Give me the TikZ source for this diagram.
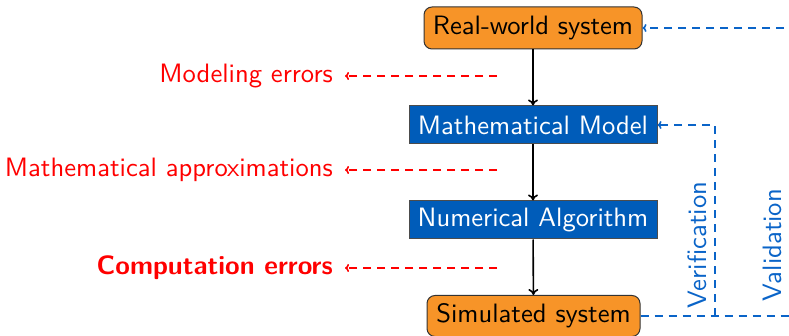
\documentclass[tikz,border=0pt]{standalone}
\usepackage{graphicx}
\usetikzlibrary{arrows.meta}
\definecolor{orng}{RGB}{247,148,40}
\definecolor{bfill}{RGB}{0,92,185}
\definecolor{bline}{RGB}{10,100,200}
\newcommand\Tx[1]{\scalebox{2.66}{\fontsize{10}{12}\selectfont\sffamily #1}}
\begin{document}
\begin{tikzpicture}[x=1pt,y=-1pt,
  sysbox/.style={draw=black!80,fill=orng,rounded corners=8pt,line width=1pt,inner sep=0pt,text=black},
  modbox/.style={draw=black!70,fill=bfill,line width=1pt,inner sep=0pt,text=white,minimum width=248pt,minimum height=38pt},
  flow/.style={-{To[length=6pt,width=10pt]},line width=1.6pt,black},
  errarrow/.style={-{To[length=4pt,width=8pt]},red,line width=1.6pt,dash pattern=on 8pt off 6pt},
  varrow/.style={bline,line width=1.6pt,dash pattern=on 8pt off 6pt},
  errlabel/.style={text=red,anchor=east,inner sep=0pt},
  vlabel/.style={text=bline,rotate=90,inner sep=0pt}
]
\useasboundingbox (0,0) rectangle (789,336);
\node[sysbox,minimum width=218pt,minimum height=42pt] (real) at (533,28) {\Tx{Real-world system}};
\node[modbox] (math) at (533,125) {\Tx{Mathematical Model}};
\node[modbox] (num) at (533,220) {\Tx{Numerical Algorithm}};
\node[sysbox,minimum width=213pt,minimum height=41pt] (sim) at (533.5,316) {\Tx{Simulated system}};

\draw[flow] (real) -- (math);
\draw[flow] (math) -- (num);
\draw[flow] (num) -- (sim);

\node[errlabel] (e1) at (333,76) {\Tx{Modeling errors}};
\node[errlabel] (e2) at (333,170) {\Tx{Mathematical approximations}};
\node[errlabel] (e3) at (333,268) {\Tx{\bfseries Computation errors}};
\coordinate (s1) at (497,76);
\coordinate (s2) at (497,170);
\coordinate (s3) at (497,268);
\coordinate (t1) at (345,76);
\coordinate (t2) at (345,170);
\coordinate (t3) at (345,268);
\draw[errarrow] (s1) -- (t1);
\draw[errarrow] (s2) -- (t2);
\draw[errarrow] (s3) -- (t3);

\coordinate (vc) at (715,316);
\coordinate (vt) at (715,125);
\coordinate (rc) at (790,316);
\coordinate (rt) at (790,28);
\draw[varrow] (sim.east) -- (vc) -- (rc);
\draw[varrow,-{To[length=4pt,width=8pt]}] (vc) -- (vt) -- (math.east);
\draw[varrow,-{To[length=4pt,width=8pt]}] (rc) -- (rt) -- (real.east);
\node[vlabel] (ver) at (697,245) {\Tx{Verification}};
\node[vlabel] (val) at (772,245) {\Tx{Validation}};
\end{tikzpicture}
\end{document}
